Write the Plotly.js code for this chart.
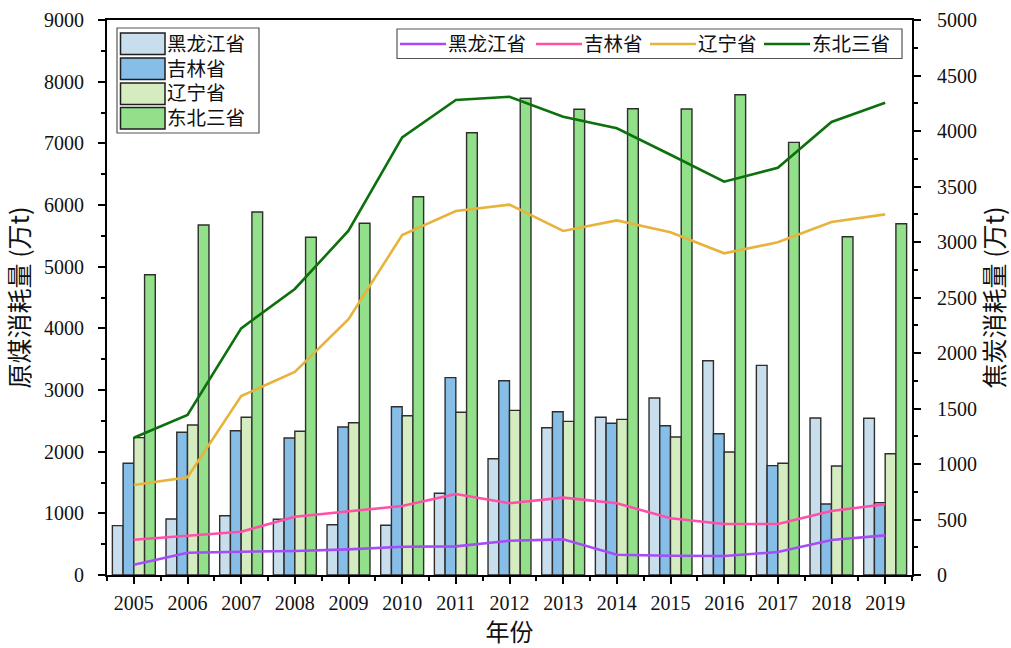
<!DOCTYPE html>
<html>
<head>
<meta charset="utf-8">
<script src="https://cdn.plot.ly/plotly-3.0.1.min.js"></script>
<style>
  html, body { margin: 0; padding: 0; background: #fff; }
  #chart { width: 1011px; height: 648px; }
</style>
</head>
<body>
<div id="chart"></div>
<script>
// 年份
const years = [2005, 2006, 2007, 2008, 2009, 2010, 2011, 2012, 2013, 2014, 2015, 2016, 2017, 2018, 2019];

// 原煤消耗量 (万t) —— 柱形，左轴
const coalHLJ = [800, 908, 962, 903, 816, 806, 1325, 1886, 2389, 2557, 2870, 3475, 3400, 2546, 2541];
const coalJL  = [1811, 2314, 2340, 2222, 2400, 2729, 3200, 3151, 2648, 2460, 2421, 2291, 1773, 1151, 1173];
const coalLN  = [2227, 2432, 2557, 2330, 2470, 2583, 2638, 2670, 2492, 2524, 2238, 1994, 1811, 1767, 1967];
const coalNE  = [4870, 5675, 5886, 5476, 5703, 6134, 7172, 7730, 7552, 7562, 7556, 7788, 7016, 5486, 5697];

// 焦炭消耗量 (万t) —— 折线，右轴
const cokeHLJ = [93, 201, 210, 216, 231, 255, 258, 308, 321, 183, 174, 171, 207, 315, 357];
const cokeJL  = [318, 357, 390, 525, 574, 622, 730, 646, 697, 646, 511, 459, 459, 577, 637];
const cokeLN  = [811, 880, 1613, 1829, 2304, 3063, 3279, 3336, 3099, 3195, 3087, 2898, 2997, 3180, 3249];
const cokeNE  = [1237, 1441, 2222, 2577, 3102, 3943, 4279, 4309, 4129, 4024, 3786, 3543, 3669, 4081, 4255];

const names = ['黑龙江省', '吉林省', '辽宁省', '东北三省'];
const barColors  = ['#c8deec', '#86bee8', '#d5ecc0', '#92e08a'];
const lineColors = ['#a54cf7', '#ff4fa8', '#e8b33c', '#0c700c'];

const coalSeries = [coalHLJ, coalJL, coalLN, coalNE];
const cokeSeries = [cokeHLJ, cokeJL, cokeLN, cokeNE];

const FONT = '"Liberation Serif", "Times New Roman", "Noto Sans CJK SC", serif';
const CJK  = '"Noto Sans CJK SC", "Liberation Serif", serif';

// plot area in pixels, used to place the two legend boxes
const M = { l: 107, r: 99, t: 20, b: 73 };
const W = 1011, H = 648;
const PW = W - M.l - M.r, PH = H - M.t - M.b;
const px = v => (v - M.l) / PW;
const py = v => (H - M.b - v) / PH;

const traces = [];
coalSeries.forEach((vals, i) => {
  traces.push({
    type: 'bar',
    x: years,
    y: vals,
    name: names[i],
    showlegend: false,
    marker: { color: barColors[i], line: { color: '#2e2e2e', width: 1.4 } },
    yaxis: 'y'
  });
});
cokeSeries.forEach((vals, i) => {
  traces.push({
    type: 'scatter',
    mode: 'lines',
    x: years,
    y: vals,
    name: names[i],
    showlegend: false,
    line: { color: lineColors[i], width: 2.6 },
    yaxis: 'y2'
  });
});

// legend for the bars (top left) and for the lines (top right)
const shapes = [];
const annotations = [];
const legFont = { family: FONT, size: 19.5, color: '#111' };

shapes.push({ type: 'rect', xref: 'paper', yref: 'paper',
  x0: px(117), x1: px(259), y0: py(28), y1: py(133),
  fillcolor: '#fff', line: { color: '#555', width: 1.2 } });
const rowTop = [33, 58, 83, 107.5];
names.forEach((n, i) => {
  shapes.push({ type: 'rect', xref: 'paper', yref: 'paper',
    x0: px(120.5), x1: px(165), y0: py(rowTop[i]), y1: py(rowTop[i] + 21.5),
    fillcolor: barColors[i], line: { color: '#1e1e1e', width: 1.5 } });
  annotations.push({ xref: 'paper', yref: 'paper', x: px(166), y: py(rowTop[i] + 11),
    xanchor: 'left', yanchor: 'middle', text: n, showarrow: false,
    height: 23, valign: 'middle', borderpad: 0, font: legFont });
});

shapes.push({ type: 'rect', xref: 'paper', yref: 'paper',
  x0: px(397), x1: px(902), y0: py(29), y1: py(58.5),
  fillcolor: '#fff', line: { color: '#555', width: 1.2 } });
const lineStart = [400, 536, 650, 764];
lineStart.forEach((x0, i) => {
  shapes.push({ type: 'line', xref: 'paper', yref: 'paper',
    x0: px(x0), x1: px(x0 + 46), y0: py(44), y1: py(44),
    line: { color: lineColors[i], width: 2.6 } });
  annotations.push({ xref: 'paper', yref: 'paper', x: px(x0 + 47), y: py(44),
    xanchor: 'left', yanchor: 'middle', text: names[i], showarrow: false,
    height: 24, valign: 'middle', borderpad: 0, font: legFont });
});

const layout = {
  width: W,
  height: H,
  margin: M,
  paper_bgcolor: '#ffffff',
  plot_bgcolor: '#ffffff',
  font: { family: FONT, size: 20, color: '#111' },
  barmode: 'group',
  bargap: 0.2,
  bargroupgap: 0,
  showlegend: false,
  shapes: shapes,
  annotations: annotations,
  xaxis: {
    range: [2004.5, 2019.5],
    tickmode: 'linear',
    tick0: 2005,
    dtick: 1,
    ticks: 'outside',
    ticklen: 7,
    tickwidth: 1.5,
    tickcolor: '#000',
    ticklabelstandoff: 2,
    minor: { dtick: 0.5, tick0: 2005, ticks: 'outside', ticklen: 4, tickwidth: 1.5, tickcolor: '#000', showgrid: false },
    showline: true,
    linecolor: '#000',
    linewidth: 2,
    mirror: true,
    showgrid: false,
    zeroline: false,
    tickfont: { family: FONT, size: 20 },
    title: { text: '年份', font: { family: CJK, size: 24 }, standoff: 14 }
  },
  yaxis: {
    range: [0, 9000],
    tickmode: 'linear',
    tick0: 0,
    dtick: 1000,
    ticks: 'outside',
    ticklen: 7,
    tickwidth: 1.5,
    tickcolor: '#000',
    ticklabelstandoff: 10,
    minor: { dtick: 500, ticks: 'outside', ticklen: 4, tickwidth: 1.5, tickcolor: '#000', showgrid: false },
    showline: true,
    linecolor: '#000',
    linewidth: 2,
    showgrid: false,
    zeroline: false,
    tickfont: { family: FONT, size: 20 },
    title: { text: '原煤消耗量 (万t)', font: { family: CJK, size: 25 }, standoff: 8 }
  },
  yaxis2: {
    overlaying: 'y',
    side: 'right',
    range: [0, 5000],
    tickmode: 'linear',
    tick0: 0,
    dtick: 500,
    ticks: 'outside',
    ticklen: 7,
    tickwidth: 1.5,
    tickcolor: '#000',
    ticklabelstandoff: 12,
    minor: { dtick: 250, ticks: 'outside', ticklen: 4, tickwidth: 1.5, tickcolor: '#000', showgrid: false },
    showline: true,
    linecolor: '#000',
    linewidth: 2,
    showgrid: false,
    zeroline: false,
    tickfont: { family: FONT, size: 20 },
    title: { text: '焦炭消耗量 (万t)', font: { family: CJK, size: 25 }, standoff: 6 }
  }
};

Plotly.newPlot('chart', traces, layout, { displayModeBar: false, responsive: false });
</script>
</body>
</html>
